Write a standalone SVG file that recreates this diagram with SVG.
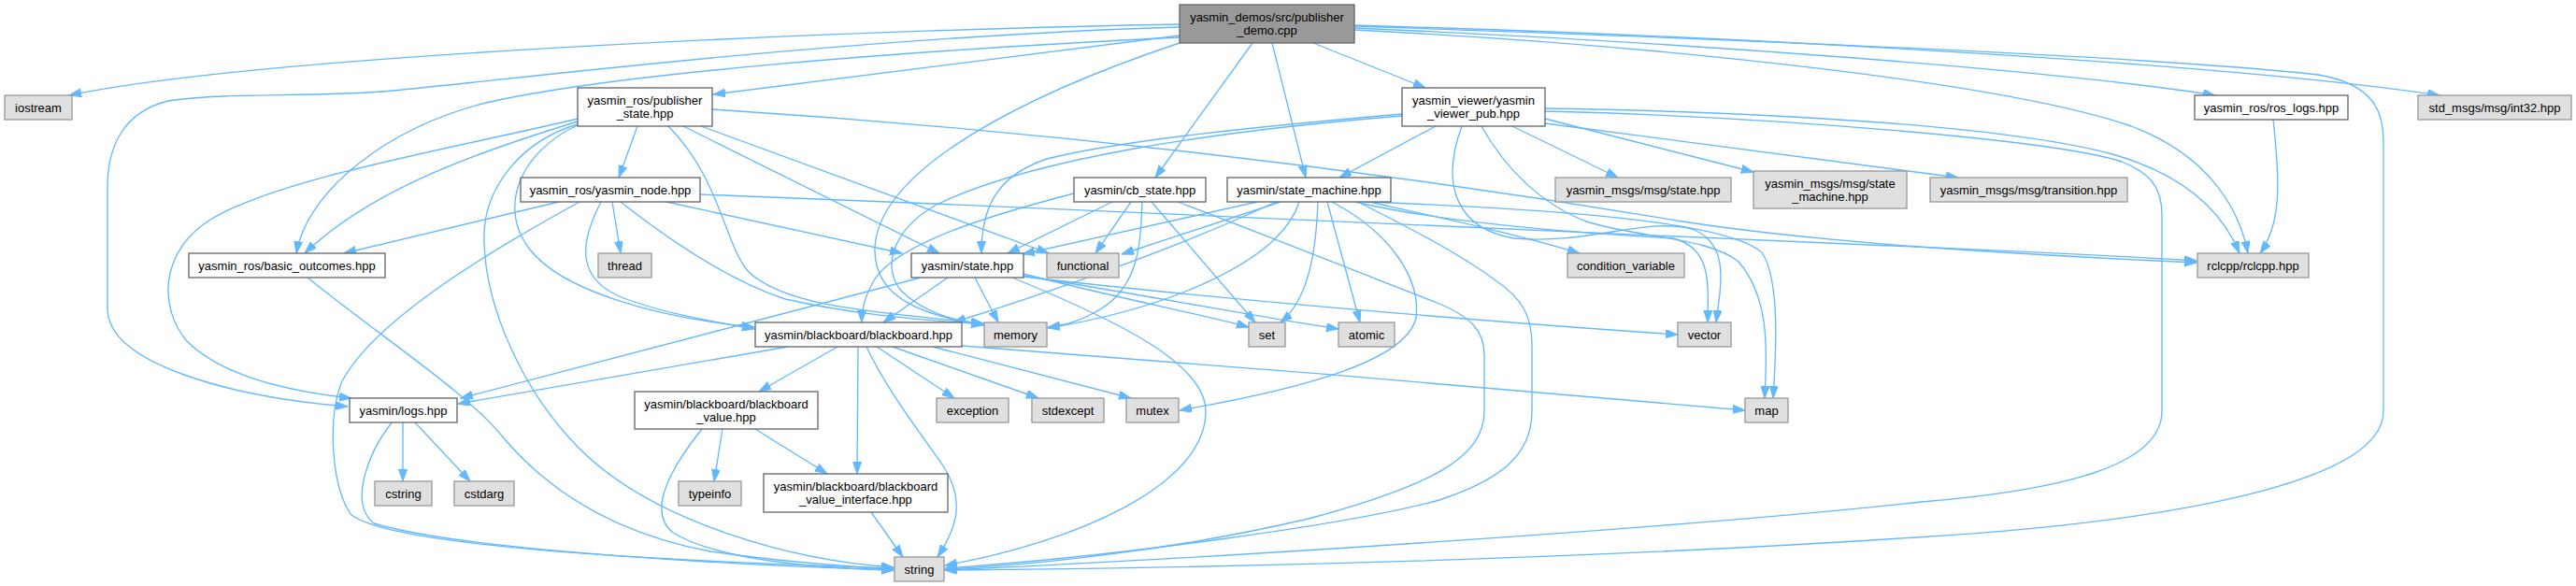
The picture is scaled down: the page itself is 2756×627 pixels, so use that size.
<svg xmlns="http://www.w3.org/2000/svg" width="2756" height="627" viewBox="0 0 2756 627">
<style>
.e{fill:none;stroke:#63b8ff;stroke-width:1.33;marker-end:url(#a)}
.n rect{fill:#ffffff;stroke:#666666;stroke-width:1.33}
.g rect{fill:#e0e0e0;stroke:#999999;stroke-width:1.33}
.m rect{fill:#999999;stroke:#666666;stroke-width:1.33}
text{font-family:"Liberation Sans",Arial,Helvetica,sans-serif;font-size:13px;fill:#000000;text-anchor:middle}
</style>
<defs>
<marker id="a" markerUnits="userSpaceOnUse" markerWidth="14" markerHeight="10" refX="13" refY="4.5" orient="auto">
<path d="M0,0 L13,4.5 L0,9 z" fill="#63b8ff" stroke="#63b8ff" stroke-width="1"/>
</marker>
</defs>
<rect x="0" y="0" width="2756" height="627" fill="#ffffff"/>
<g id="edges">
<path class="e" d="M1262,26 C1000,30 300,55 74,102"/>
<path class="e" d="M1262,29 C900,40 550,85 420,97 C330,105 250,98 180,108 C130,120 115,160 115,200 L115,330 C115,390 250,425 372,435"/>
<path class="e" d="M1262,40 C950,55 650,80 520,110 C420,135 330,200 317,271"/>
<path class="e" d="M1262,38 L763,101"/>
<path class="e" d="M1262,46 C1100,100 940,180 936,265 C934,320 990,338 1052,348"/>
<path class="e" d="M1449,28 C1800,40 2300,60 2480,80 C2540,90 2550,120 2550,150 L2550,440 C2550,520 2300,560 2050,575 C1700,598 1300,608 1011,610"/>
<path class="e" d="M1449,27 C1900,40 2400,70 2610,102"/>
<path class="e" d="M1449,30 C1800,45 2200,75 2370,102"/>
<path class="e" d="M1449,32 C1800,50 2150,90 2280,135 C2360,165 2395,220 2405,271"/>
<path class="e" d="M1340,46 L1236,190"/>
<path class="e" d="M1361,46 L1397,190"/>
<path class="e" d="M1405,46 L1525,94"/>
<path class="e" d="M682,135 L662,190"/>
<path class="e" d="M618,130 C520,160 400,200 326,271"/>
<path class="e" d="M618,127 C480,160 300,190 225,235 C170,270 170,330 200,365 C240,405 320,420 376,426"/>
<path class="e" d="M618,133 C560,150 515,200 518,260 C520,330 560,420 620,480 C700,560 850,600 956,607"/>
<path class="e" d="M618,134 C560,160 530,220 567,267 C600,310 700,340 807,350"/>
<path class="e" d="M715,135 C770,190 775,260 800,290 C840,330 950,335 1052,346"/>
<path class="e" d="M731,135 L1005,271"/>
<path class="e" d="M750,135 L1122,271"/>
<path class="e" d="M762,117 C1200,145 1550,195 1800,237 C1950,260 2150,272 2350,281"/>
<path class="e" d="M598,216 L368,271"/>
<path class="e" d="M655,216 L664,271"/>
<path class="e" d="M620,216 C540,260 400,340 365,410 C350,450 355,520 375,550 C420,590 800,603 956,608"/>
<path class="e" d="M713,216 L965,271"/>
<path class="e" d="M749,208 C1200,225 1700,250 2000,262 C2200,270 2300,276 2350,279"/>
<path class="e" d="M643,216 C620,260 615,300 670,320 C720,338 770,345 807,352"/>
<path class="e" d="M664,216 C720,260 780,300 840,320 C920,338 990,342 1052,347"/>
<path class="e" d="M1190,216 L1078,271"/>
<path class="e" d="M1210,216 L1172,271"/>
<path class="e" d="M1149,207 C1060,230 960,260 935,300 C925,318 922,330 922,345"/>
<path class="e" d="M1222,216 C1220,260 1220,310 1170,335 C1150,345 1140,348 1121,350"/>
<path class="e" d="M1232,216 L1343,345"/>
<path class="e" d="M1260,216 C1350,250 1450,290 1540,325 C1575,340 1588,355 1588,380 L1588,440 C1588,490 1530,520 1400,555 C1250,590 1100,605 1011,609"/>
<path class="e" d="M1345,216 L1094,272"/>
<path class="e" d="M1370,216 L1200,272"/>
<path class="e" d="M1365,216 C1250,270 1100,320 1020,345"/>
<path class="e" d="M1410,216 C1408,270 1400,320 1370,345"/>
<path class="e" d="M1420,216 L1455,345"/>
<path class="e" d="M1465,216 C1550,235 1620,250 1690,271"/>
<path class="e" d="M1425,216 C1490,250 1520,300 1515,340 C1505,385 1400,415 1262,439"/>
<path class="e" d="M1450,216 C1550,240 1700,250 1790,255 C1830,265 1828,300 1827,345"/>
<path class="e" d="M1460,216 C1700,225 1850,240 1885,270 C1905,300 1900,380 1897,426"/>
<path class="e" d="M1390,216 C1370,280 1250,330 1121,351"/>
<path class="e" d="M1453,216 C1500,240 1560,270 1600,300 C1630,320 1639,340 1639,370 L1639,440 C1639,490 1600,515 1540,535 C1450,560 1200,595 1011,608"/>
<path class="e" d="M1536,135 L1433,190"/>
<path class="e" d="M1618,135 L1731,190"/>
<path class="e" d="M1653,127 L1876,184"/>
<path class="e" d="M1653,132 L2095,190"/>
<path class="e" d="M1653,116 C1900,120 2150,135 2260,165 C2330,185 2375,220 2396,271"/>
<path class="e" d="M1653,119 C1900,125 2200,150 2270,173 C2300,185 2313,200 2313,230 L2313,440 C2313,500 2200,525 2056,537 C1800,565 1300,597 1011,610"/>
<path class="e" d="M1564,135 C1540,200 1560,245 1620,255 C1700,262 1760,232 1810,245 C1850,260 1842,300 1836,345"/>
<path class="e" d="M1585,135 C1610,180 1650,220 1700,238 C1760,255 1830,255 1860,280 C1895,320 1890,380 1888,426"/>
<path class="e" d="M1500,122 C1350,135 1200,150 1120,170 C1060,190 1050,230 1050,271"/>
<path class="e" d="M1500,124 C1300,140 1100,170 1000,220 C950,250 945,290 965,312 C990,335 1020,343 1052,347"/>
<path class="e" d="M1014,297 L945,345"/>
<path class="e" d="M985,297 L493,426"/>
<path class="e" d="M1043,297 L1068,345"/>
<path class="e" d="M1095,293 C1200,320 1280,335 1336,350"/>
<path class="e" d="M1095,295 C1250,320 1350,340 1432,352"/>
<path class="e" d="M1095,296 C1300,320 1600,345 1795,358"/>
<path class="e" d="M1083,297 C1200,345 1290,390 1290,440 C1290,520 1150,580 1011,605"/>
<path class="e" d="M843,371 L490,432"/>
<path class="e" d="M896,371 L812,419"/>
<path class="e" d="M918,371 L917,507"/>
<path class="e" d="M927,371 C950,420 990,470 1010,500 C1035,540 1020,570 1003,596"/>
<path class="e" d="M938,371 L1021,426"/>
<path class="e" d="M955,371 L1111,426"/>
<path class="e" d="M998,371 L1210,426"/>
<path class="e" d="M1029,370 C1300,390 1600,415 1867,439"/>
<path class="e" d="M773,459 L764,515"/>
<path class="e" d="M808,459 L885,507"/>
<path class="e" d="M751,459 C710,510 695,550 720,570 C770,600 880,608 956,610"/>
<path class="e" d="M932,548 L966,596"/>
<path class="e" d="M431,452 L431,515"/>
<path class="e" d="M444,452 L503,515"/>
<path class="e" d="M419,452 C390,490 375,540 400,560 C500,590 800,605 956,610"/>
<path class="e" d="M329,297 C420,370 500,420 540,470 C600,540 680,575 760,590 C850,603 920,607 956,609"/>
<path class="e" d="M2432,128 C2440,200 2440,240 2418,271"/>
</g>
<g id="node-main" class="m"><rect x="1262" y="5" width="187" height="41"/><text x="1355.5" y="23">yasmin_demos/src/publisher</text><text x="1355.5" y="37">_demo.cpp</text></g>
<g id="node-iostream" class="g"><rect x="5" y="102" width="72" height="26"/><text x="41" y="119.5">iostream</text></g>
<g id="node-publisher_state" class="n"><rect x="618" y="94" width="144" height="41"/><text x="690" y="112">yasmin_ros/publisher</text><text x="690" y="126">_state.hpp</text></g>
<g id="node-viewer_pub" class="n"><rect x="1500" y="94" width="153" height="41"/><text x="1576.5" y="112">yasmin_viewer/yasmin</text><text x="1576.5" y="126">_viewer_pub.hpp</text></g>
<g id="node-ros_logs" class="n"><rect x="2348" y="102" width="164" height="26"/><text x="2430" y="119.5">yasmin_ros/ros_logs.hpp</text></g>
<g id="node-int32" class="g"><rect x="2587" y="102" width="164" height="26"/><text x="2669" y="119.5">std_msgs/msg/int32.hpp</text></g>
<g id="node-yasmin_node" class="n"><rect x="557" y="190" width="192" height="26"/><text x="653" y="207.5">yasmin_ros/yasmin_node.hpp</text></g>
<g id="node-cb_state" class="n"><rect x="1149" y="190" width="141" height="26"/><text x="1219.5" y="207.5">yasmin/cb_state.hpp</text></g>
<g id="node-state_machine" class="n"><rect x="1313" y="190" width="175" height="26"/><text x="1400.5" y="207.5">yasmin/state_machine.hpp</text></g>
<g id="node-msg_state" class="g"><rect x="1664" y="190" width="188" height="26"/><text x="1758" y="207.5">yasmin_msgs/msg/state.hpp</text></g>
<g id="node-msg_state_machine" class="g"><rect x="1876" y="183" width="164" height="40"/><text x="1958" y="200.5">yasmin_msgs/msg/state</text><text x="1958" y="214.5">_machine.hpp</text></g>
<g id="node-msg_transition" class="g"><rect x="2065" y="190" width="211" height="26"/><text x="2170.5" y="207.5">yasmin_msgs/msg/transition.hpp</text></g>
<g id="node-basic_outcomes" class="n"><rect x="202" y="271" width="210" height="26"/><text x="307" y="288.5">yasmin_ros/basic_outcomes.hpp</text></g>
<g id="node-thread" class="g"><rect x="640" y="271" width="57" height="26"/><text x="668.5" y="288.5">thread</text></g>
<g id="node-state" class="n"><rect x="975" y="271" width="120" height="26"/><text x="1035" y="288.5">yasmin/state.hpp</text></g>
<g id="node-functional" class="g"><rect x="1120" y="271" width="77" height="26"/><text x="1158.5" y="288.5">functional</text></g>
<g id="node-condition_variable" class="g"><rect x="1677" y="271" width="125" height="26"/><text x="1739.5" y="288.5">condition_variable</text></g>
<g id="node-rclcpp" class="g"><rect x="2351" y="271" width="119" height="26"/><text x="2410.5" y="288.5">rclcpp/rclcpp.hpp</text></g>
<g id="node-blackboard" class="n"><rect x="808" y="345" width="221" height="26"/><text x="918.5" y="362.5">yasmin/blackboard/blackboard.hpp</text></g>
<g id="node-memory" class="g"><rect x="1053" y="345" width="67" height="26"/><text x="1086.5" y="362.5">memory</text></g>
<g id="node-set" class="g"><rect x="1336" y="345" width="39" height="26"/><text x="1355.5" y="362.5">set</text></g>
<g id="node-atomic" class="g"><rect x="1432" y="345" width="60" height="26"/><text x="1462" y="362.5">atomic</text></g>
<g id="node-vector" class="g"><rect x="1795" y="345" width="57" height="26"/><text x="1823.5" y="362.5">vector</text></g>
<g id="node-logs" class="n"><rect x="374" y="426" width="115" height="26"/><text x="431.5" y="443.5">yasmin/logs.hpp</text></g>
<g id="node-blackboard_value" class="n"><rect x="679" y="419" width="196" height="40"/><text x="777" y="436.5">yasmin/blackboard/blackboard</text><text x="777" y="450.5">_value.hpp</text></g>
<g id="node-exception" class="g"><rect x="1002" y="426" width="77" height="26"/><text x="1040.5" y="443.5">exception</text></g>
<g id="node-stdexcept" class="g"><rect x="1104" y="426" width="77" height="26"/><text x="1142.5" y="443.5">stdexcept</text></g>
<g id="node-mutex" class="g"><rect x="1205" y="426" width="56" height="26"/><text x="1233" y="443.5">mutex</text></g>
<g id="node-map" class="g"><rect x="1867" y="426" width="46" height="26"/><text x="1890" y="443.5">map</text></g>
<g id="node-cstring" class="g"><rect x="401" y="515" width="61" height="26"/><text x="431.5" y="532.5">cstring</text></g>
<g id="node-cstdarg" class="g"><rect x="486" y="515" width="64" height="26"/><text x="518" y="532.5">cstdarg</text></g>
<g id="node-typeinfo" class="g"><rect x="726" y="515" width="67" height="26"/><text x="759.5" y="532.5">typeinfo</text></g>
<g id="node-blackboard_value_interface" class="n"><rect x="817" y="507" width="197" height="41"/><text x="915.5" y="525">yasmin/blackboard/blackboard</text><text x="915.5" y="539">_value_interface.hpp</text></g>
<g id="node-string" class="g"><rect x="957" y="596" width="53" height="26"/><text x="983.5" y="613.5">string</text></g>
</svg>
